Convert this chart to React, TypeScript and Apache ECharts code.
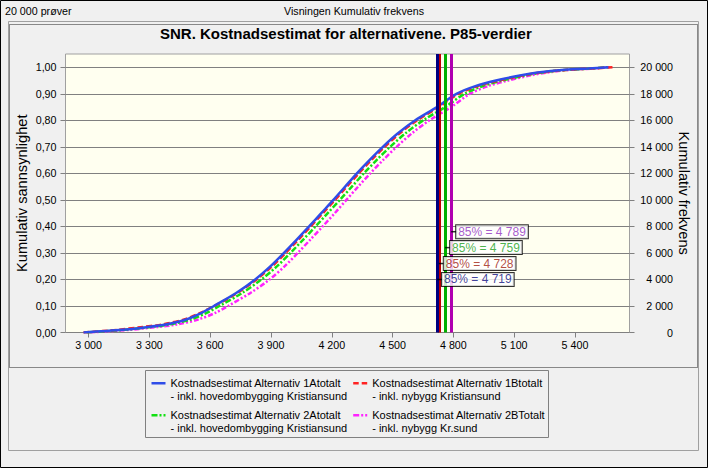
import React, { useEffect, useRef } from 'react';
import * as echarts from 'echarts';

// Cumulative probability levels (shared) and the cost reached at each level
const cumProb = [0, 0.01, 0.02, 0.03, 0.05, 0.075, 0.1, 0.15, 0.2, 0.25, 0.3, 0.35, 0.4, 0.45, 0.5, 0.55, 0.6, 0.65, 0.7, 0.75, 0.8, 0.85, 0.9, 0.93, 0.95, 0.97, 0.98, 0.99, 0.995, 1.0];
const cost1A = [2975, 3165, 3285, 3380, 3485, 3560, 3618, 3730, 3822, 3898, 3964, 4027, 4088, 4148, 4208, 4266, 4324, 4386, 4452, 4525, 4612, 4719, 4815, 4912, 5010, 5135, 5215, 5335, 5465, 5565];
const cost1B = [2975, 3140, 3255, 3360, 3475, 3555, 3620, 3736, 3829, 3906, 3972, 4035, 4096, 4156, 4216, 4274, 4333, 4395, 4461, 4534, 4621, 4728, 4825, 4925, 5025, 5150, 5232, 5352, 5480, 5585];
const cost2A = [2990, 3175, 3298, 3398, 3508, 3585, 3645, 3760, 3853, 3930, 3996, 4059, 4120, 4180, 4240, 4299, 4358, 4421, 4488, 4562, 4651, 4759, 4855, 4948, 5042, 5160, 5238, 5352, 5475, 5560];
const cost2B = [3005, 3200, 3330, 3435, 3545, 3628, 3688, 3800, 3893, 3968, 4032, 4094, 4155, 4215, 4272, 4330, 4390, 4453, 4520, 4594, 4682, 4789, 4882, 4975, 5070, 5185, 5262, 5372, 5490, 5570];

const seriesNames = [
  'Kostnadsestimat Alternativ 1Atotalt\n- inkl. hovedombygging Kristiansund',
  'Kostnadsestimat Alternativ 1Btotalt\n- inkl. nybygg Kristiansund',
  'Kostnadsestimat Alternativ 2Atotalt\n- inkl. hovedombygging Kristiansund',
  'Kostnadsestimat Alternativ 2BTotalt\n- inkl. nybygg Kr.sund',
];
const p85Values = [4719, 4728, 4759, 4789];
const p85LabelLevels = [0.2, 0.26, 0.32, 0.38];

const xTickValues = [3000, 3300, 3600, 3900, 4200, 4500, 4800, 5100, 5400];
const probTickValues = [0, 0.1, 0.2, 0.3, 0.4, 0.5, 0.6, 0.7, 0.8, 0.9, 1.0];
const freqTickValues = [0, 2000, 4000, 6000, 8000, 10000, 12000, 14000, 16000, 18000, 20000];
const totalSamples = 20000;

const curveColors = ['#2f4de8', '#ff2222', '#11e011', '#ff22ff'];
const curveDash: any[] = ['solid', [6, 3], [6, 2, 2, 2], [5, 2, 2, 2, 2, 2]];
const vlineColors = ['#000080', '#c00000', '#00b000', '#b000b0'];
const labelColors = ['#101080', '#a02010', '#20a020', '#9030c0'];
const legendIcons = [
  'path://M0,0h0.01v0.01h-0.01zM0,5.5h14v2.5h-14zM0,25.99h0.01v0.01h-0.01z',
  'path://M0,0h0.01v0.01h-0.01zM0,5.5h5.5v2.5h-5.5zM8.5,5.5h5.5v2.5h-5.5zM0,25.99h0.01v0.01h-0.01z',
  'path://M0,0h0.01v0.01h-0.01zM0,5.5h6v2.5h-6zM8,5.5h2v2.5h-2zM12,5.5h2v2.5h-2zM0,25.99h0.01v0.01h-0.01z',
  'path://M0,0h0.01v0.01h-0.01zM0,5.5h6v2.5h-6zM8,5.5h2v2.5h-2zM12,5.5h2v2.5h-2zM0,25.99h0.01v0.01h-0.01z',
];

const FONT = "'Liberation Sans', Arial, sans-serif";
const fmtThousands = (n: number) => String(Math.round(n)).replace(/\B(?=(\d{3})+(?!\d))/g, ' ');

export default function App() {
  const ref = useRef<HTMLDivElement>(null);
  useEffect(() => {
    if (!ref.current) return;
    const chart = echarts.init(ref.current, undefined, { renderer: 'svg' });
    const costs = [cost1A, cost1B, cost2A, cost2B];
    const lineSeries = costs.map((c, i) => ({
      type: 'line',
      name: seriesNames[i],
      data: cumProb.map((p, k) => [c[k], p]),
      symbol: 'none',
      smooth: 0.3,
      z: 2 + (3 - i) * 0.1,
      lineStyle: { color: curveColors[i], width: 2.5, type: curveDash[i] },
      itemStyle: { color: curveColors[i] },
      markLine: {
        silent: true,
        symbol: 'none',
        label: { show: false },
        lineStyle: { color: vlineColors[i], width: 3, type: 'solid' },
        data: [{ xAxis: p85Values[i] }],
      },
    }));
    const option: any = {
      animation: false,
      backgroundColor: '#f0f0f0',
      textStyle: { fontFamily: FONT },
      title: {
        text: 'SNR. Kostnadsestimat for alternativene. P85-verdier',
        left: 160,
        top: 26,
        padding: 0,
        textStyle: { fontSize: 15, fontWeight: 'bold', color: '#000', fontFamily: FONT },
      },
      grid: {
        left: 65.5, right: 78.5, top: 54, bottom: 135.5,
        show: true, backgroundColor: '#fffff0', borderColor: '#a0a0a0', borderWidth: 1,
      },
      legend: {
        data: seriesNames.map((n, i) => ({ name: n, icon: legendIcons[i] })),
        left: 151.5, top: 376.5, width: 460, padding: 0,
        itemWidth: 14, itemHeight: 26, itemGap: 6,
        selectedMode: false,
        itemStyle: { borderWidth: 0 },
        textStyle: { fontFamily: FONT, fontSize: 11, color: '#000', lineHeight: 13, width: 172 },
      },
      xAxis: {
        type: 'value', min: 2886, max: 5669,
        axisLine: { show: false },
        splitLine: { show: false },
        axisTick: { show: true, length: 5, lineStyle: { color: '#808080' }, customValues: xTickValues },
        axisLabel: { customValues: xTickValues, margin: 7, fontSize: 10.7, color: '#000', fontFamily: FONT, formatter: (v: number) => fmtThousands(v) },
      },
      yAxis: [
        {
          type: 'value', min: 0, max: 1.05, interval: 0.1,
          name: 'Kumulativ sannsynlighet', nameLocation: 'middle', nameGap: 36, nameMoveOverlap: false,
          nameTextStyle: { fontSize: 14.6, color: '#000', fontFamily: FONT },
          axisLine: { show: false },
          axisTick: { show: true, length: 5, lineStyle: { color: '#808080' }, customValues: probTickValues },
          axisLabel: { customValues: probTickValues, margin: 9, fontSize: 10.7, color: '#000', fontFamily: FONT, formatter: (v: number) => v.toFixed(2).replace('.', ',') },
          splitLine: { show: true, lineStyle: { color: '#808080', width: 1 } },
        },
        {
          type: 'value', min: 0, max: totalSamples * 1.05, interval: 2000, position: 'right',
          name: 'Kumulativ frekvens', nameLocation: 'middle', nameGap: 47, nameRotate: -90, nameMoveOverlap: false,
          nameTextStyle: { fontSize: 14.6, color: '#000', fontFamily: FONT },
          axisLine: { show: false },
          axisTick: { show: true, length: 5, lineStyle: { color: '#808080' }, customValues: freqTickValues },
          axisLabel: { customValues: freqTickValues, margin: 43.5, align: 'right', fontSize: 10.7, color: '#000', fontFamily: FONT, formatter: (v: number) => fmtThousands(v) },
          splitLine: { show: false },
        },
      ],
      series: [
        ...lineSeries.slice().reverse(),
        {
          type: 'scatter',
          name: 'P85',
          z: 10,
          silent: true,
          symbol: 'rect',
          symbolSize: [6, 1.5],
          symbolOffset: [3, 0],
          itemStyle: { color: '#000' },
          label: {
            show: true, position: 'right', distance: -1,
            backgroundColor: '#fff', borderColor: '#000', borderWidth: 1,
            padding: [1, 2, 0, 2], fontSize: 12, fontFamily: FONT,
          },
          data: p85Values.map((v, i) => ({
            value: [v, p85LabelLevels[i]],
            label: { color: labelColors[i], formatter: `85% = ${fmtThousands(v)}` },
          })),
        },
      ],
      graphic: [
        { type: 'rect', shape: { x: 0.5, y: 0.5, width: 707, height: 467 }, style: { fill: 'none', stroke: '#000', lineWidth: 1 }, silent: true },
        { type: 'rect', shape: { x: 8.5, y: 21.5, width: 690, height: 429 }, style: { fill: 'none', stroke: '#a0a0a0', lineWidth: 1 }, silent: true },
        { type: 'rect', shape: { x: 9.5, y: 24.5, width: 688, height: 343 }, style: { fill: 'none', stroke: '#202020', lineWidth: 1, lineDash: [1, 1] }, silent: true },
        { type: 'rect', shape: { x: 145.5, y: 370.5, width: 403, height: 67 }, style: { fill: 'none', stroke: '#808080', lineWidth: 1 }, silent: true },
        { type: 'text', x: 5, y: 11, style: { text: '20 000 prøver', fontSize: 10.7, fontFamily: FONT, fill: '#000', verticalAlign: 'middle' }, silent: true },
        { type: 'text', x: 354, y: 11, style: { text: 'Visningen Kumulativ frekvens', fontSize: 10.7, fontFamily: FONT, fill: '#000', align: 'center', verticalAlign: 'middle' }, silent: true },
      ],
    };
    chart.setOption(option);
    return () => chart.dispose();
  }, []);
  return <div ref={ref} style={{ position: 'absolute', left: 0, top: 0, width: 708, height: 468 }} />;
}
